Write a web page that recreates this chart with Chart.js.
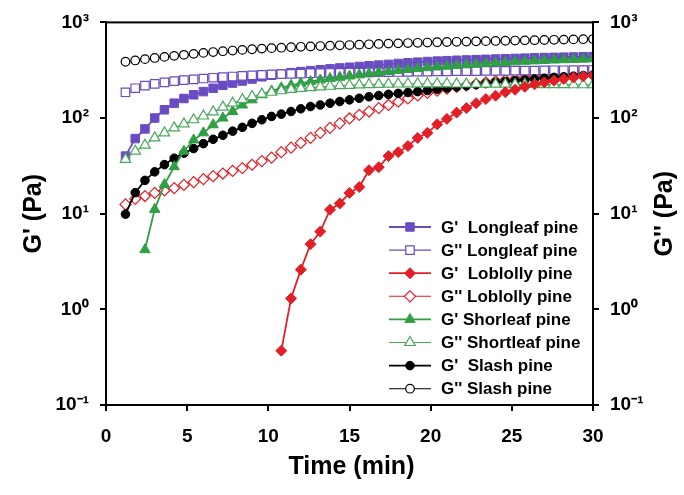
<!DOCTYPE html>
<html><head><meta charset="utf-8">
<script src="https://cdn.jsdelivr.net/npm/chart.js@4.4.1/dist/chart.umd.min.js"></script>
<style>html,body{margin:0;padding:0;background:#fff;}#wrap{width:684px;height:495px;}</style>
</head><body><div id="wrap"><canvas id="c" width="684" height="495"></canvas></div>
<script>
const time = [1.2, 1.8, 2.4, 3.0, 3.6, 4.2, 4.8, 5.4, 6.0, 6.6, 7.2, 7.8, 8.4, 9.0, 9.6, 10.2, 10.8, 11.4, 12.0, 12.6, 13.2, 13.8, 14.4, 15.0, 15.6, 16.2, 16.8, 17.4, 18.0, 18.6, 19.2, 19.8, 20.4, 21.0, 21.6, 22.2, 22.8, 23.4, 24.0, 24.6, 25.2, 25.8, 26.4, 27.0, 27.6, 28.2, 28.8, 29.4, 30.0];

const longleafG1 = [40,61,77,100,122, 143,160,175,189,205, 220,232,244,256,270, 280,290,298,306,313, 320,327,334,340,346, 352,358,364,372,378, 384,390,394,398,402, 405,408,411,414,417, 420,423,426,429,431, 433,435,437,439];
const longleafG2 = [186,205,218,228,236, 243,249,254,259,264, 268,272,276,280,283, 286,288,290,292,294, 295,296,297,298,299, 300,301,302,303,304, 305,306,307,308,309, 310,310,311,312,312, 313,314,314,315,316, 316,317,317,318];
const loblollyG1 = [null,null,null,null,null, null,null,null,null,null, null,null,null,null,null, null,0.37,1.3,2.6,4.8, 6.5,11,12.8,16.5,19, 28.5,30.6,40,44,51, 62,70,86,98,114, 127,143,158,171,186, 198,212,225,236,246, 256,265,273,280];
const loblollyG2 = [12.5,14.3,15.3,16.5,17.5, 18.5,20,21.4,23,24.7, 26.3,28,30,32.5,35.5, 38.5,44,49,55,62, 70,79,88,99,108, 117,127,137,148,160, 172,183,193,203,212, 220,228,236,243,250, 257,264,272,280,288, 296,303,310,318];
const shortleafG1 = [null,null,4.2,11.1,20.2, 31,45,59,70,85, 100,117,137,155,175, 192,207,220,231,241, 250,259,267,275,283, 291,299,307,315,322, 329,336,342,348,354, 360,366,372,377,382, 387,392,396,400,404, 407,410,413,416];
const shortleafG2 = [37,45,52,62,70, 79,87,96,105,116, 130,143,156,168,178, 186,193,199,204,208, 212,215,218,220,222, 224,225,226,227,228, 228,228,228,228,227, 227,227,226,226,226, 225,225,225,224,224, 224,223,223,223];
const slashG1 = [9.9,16.6,22.3,27.4,32.6, 38,43,48,54,60, 66,73,80,88,96, 104,110,117,125,132, 137,143,149,155,161, 167,172,177,181,185, 189,194,200,206,212, 218,224,230,236,241, 246,251,256,261,266, 270,274,278,282];
const slashG2 = [388,400,413,425,436, 447,458,469,480,490, 500,508,516,524,532, 538,544,550,556,561, 566,571,576,580,585, 590,595,600,604,608, 612,616,620,624,627, 630,634,637,640,643, 646,649,652,655,658, 661,664,667,670];

const seriesLabels = ["G'  Longleaf pine", "G'' Longleaf pine", "G'  Loblolly pine", "G'' Loblolly pine", "G' Shorleaf pine", "G'' Shortleaf pine", "G'  Slash pine", "G'' Slash pine"];
const xTickValues = [0, 5, 10, 15, 20, 25, 30];
const yTickValues = [0.1, 1, 10, 100, 1000];
const yTickLabels = ['10\u207B\u00B9', '10\u2070', '10\u00B9', '10\u00B2', '10\u00B3'];
const xTitle = 'Time (min)';
const yTitle = "G' (Pa)";
const y2Title = "G'' (Pa)";

const FONT = "'Liberation Sans', Arial, sans-serif";
const PURPLE = '#6a4cc2', RED = '#e21f26', GREEN = '#2f9e44', GREEN2 = '#4aa85c', BLACK = '#000000';

function pts(arr) {
  const out = [];
  for (let i = 0; i < time.length; i++) if (arr[i] !== null) out.push({x: time[i], y: arr[i]});
  return out;
}
const styles = [
  {arr: longleafG1, color: PURPLE, ps: 'rect', r: 6, fill: true, lw: 1.8},
  {arr: longleafG2, color: PURPLE, ps: 'rect', r: 6, fill: false, lw: 1.1},
  {arr: loblollyG1, color: RED, ps: 'rectRot', r: 5.5, fill: true, lw: 1.8},
  {arr: loblollyG2, color: RED, ps: 'rectRot', r: 5.5, fill: false, lw: 1.1},
  {arr: shortleafG1, color: GREEN, ps: 'triangle', r: 6, fill: true, lw: 1.8},
  {arr: shortleafG2, color: GREEN2, ps: 'triangle', r: 6, fill: false, lw: 1.1},
  {arr: slashG1, color: BLACK, ps: 'circle', r: 4.3, fill: true, lw: 1.8},
  {arr: slashG2, color: BLACK, ps: 'circle', r: 4.3, fill: false, lw: 1.1}
];
const drawOrder = [7, 6, 2, 8, 4, 3, 5, 1];
const datasets = styles.map((s, i) => ({
  label: seriesLabels[i],
  data: pts(s.arr),
  borderColor: s.color,
  backgroundColor: s.fill ? s.color : '#ffffff',
  borderWidth: s.lw,
  pointStyle: s.ps,
  pointRadius: s.r,
  pointBorderWidth: s.fill ? 1 : 1.2,
  pointBorderColor: s.color,
  pointBackgroundColor: s.fill ? s.color : '#ffffff',
  tension: 0,
  fill: false,
  order: drawOrder[i]
}));

function marker(ctx, ps, r, x, y) {
  ctx.beginPath();
  if (ps === 'circle') ctx.arc(x, y, r, 0, Math.PI * 2);
  else if (ps === 'rect') { const h = r * Math.SQRT1_2; ctx.rect(x - h, y - h, 2 * h, 2 * h); }
  else if (ps === 'rectRot') { ctx.moveTo(x, y - r); ctx.lineTo(x + r, y); ctx.lineTo(x, y + r); ctx.lineTo(x - r, y); ctx.closePath(); }
  else if (ps === 'triangle') {
    for (let k = 0; k < 3; k++) { const a = k * 2 * Math.PI / 3; const px = x + Math.sin(a) * r, py = y - Math.cos(a) * r; k ? ctx.lineTo(px, py) : ctx.moveTo(px, py); }
    ctx.closePath();
  }
  ctx.fill(); ctx.stroke();
}

const decor = {
  id: 'decor',
  afterDraw(chart) {
    const ctx = chart.ctx, a = chart.chartArea;
    ctx.save();
    ctx.strokeStyle = '#000'; ctx.lineWidth = 2;
    ctx.strokeRect(a.left, a.top, a.right - a.left, a.bottom - a.top);
    // titles
    ctx.fillStyle = '#000';
    ctx.font = 'bold 25px ' + FONT;
    ctx.textAlign = 'center'; ctx.textBaseline = 'middle';
    ctx.fillText(xTitle, (a.left + a.right) / 2 + 2, 467);
    const cy = (a.top + a.bottom) / 2;
    ctx.save(); ctx.translate(34, cy); ctx.rotate(-Math.PI / 2); ctx.fillText(yTitle, 0, 0); ctx.restore();
    ctx.save(); ctx.translate(665, cy); ctx.rotate(-Math.PI / 2); ctx.fillText(y2Title, 0, 0); ctx.restore();
    // legend
    ctx.font = 'bold 17px ' + FONT;
    ctx.textAlign = 'left'; ctx.textBaseline = 'middle';
    chart.data.datasets.forEach((d, i) => {
      const y = 227 + i * 23.1;
      ctx.strokeStyle = d.borderColor; ctx.lineWidth = d.borderWidth;
      ctx.beginPath(); ctx.moveTo(389, y); ctx.lineTo(431, y); ctx.stroke();
      ctx.fillStyle = d.pointBackgroundColor; ctx.lineWidth = d.pointBorderWidth;
      marker(ctx, d.pointStyle, d.pointRadius, 410, y);
      ctx.fillStyle = '#000';
      ctx.fillText(d.label, 441, y + 1);
    });
    ctx.restore();
  }
};

const tickFont = {family: FONT, weight: 'bold', size: 19};
function yAxis(pos, w) {
  return {
    type: 'logarithmic', position: pos, min: 0.1, max: 1000,
    afterBuildTicks: s => { s.ticks = yTickValues.map(v => ({value: v})); },
    afterFit: s => { s.width = w; },
    ticks: {font: tickFont, color: '#000', padding: 11, callback: v => yTickLabels[yTickValues.indexOf(v)]},
    grid: {drawOnChartArea: false, drawTicks: true, tickLength: 6, color: '#000', lineWidth: 2},
    border: {display: true, color: '#000', width: 2}
  };
}

new Chart(document.getElementById('c'), {
  type: 'line',
  data: {datasets},
  options: {
    responsive: false, animation: false,
    layout: {padding: {top: 20, left: 0, right: 0, bottom: 0}},
    plugins: {legend: {display: false}, tooltip: {enabled: false}},
    scales: {
      x: {
        type: 'linear', min: 0, max: 30,
        afterBuildTicks: s => { s.ticks = xTickValues.map(v => ({value: v})); },
        afterFit: s => { s.height = 90; },
        ticks: {font: tickFont, color: '#000', padding: 14},
        grid: {drawOnChartArea: false, drawTicks: true, tickLength: 6, color: '#000', lineWidth: 2},
        border: {display: true, color: '#000', width: 2}
      },
      y: yAxis('left', 106),
      y2: yAxis('right', 91)
    }
  },
  plugins: [decor]
});
</script></body></html>
